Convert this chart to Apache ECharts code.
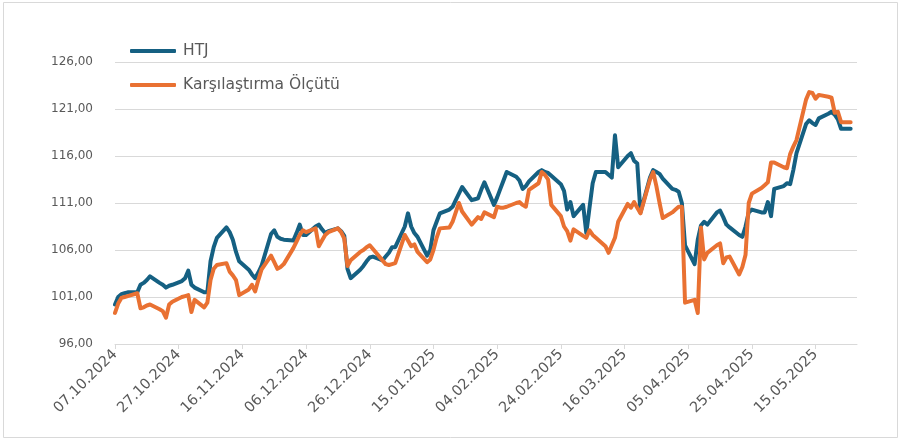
<!DOCTYPE html>
<html>
<head>
<meta charset="utf-8">
<script src="https://cdn.jsdelivr.net/npm/echarts@6/dist/echarts.min.js"></script>
<style>
html,body{margin:0;padding:0;background:#fff;}
#c{width:902px;height:441px;}
</style>
</head>
<body>
<div id="c"></div>
<script>
// Trading-day (weekday) values, starting Mon 07.10.2024, ending Mon 26.05.2025
const startDate = [2024, 10, 7];
const endDate = [2025, 5, 28];
const seriesNames = ['HTJ', 'Karşılaştırma Ölçütü'];
const htj = [
  100.2,101.0,101.3,101.4,101.5,
  101.5,102.3,102.5,102.8,103.2,
  102.5,102.3,102.0,102.2,102.3,
  102.7,103.0,103.8,102.3,102.0,
  101.5,101.5,104.8,106.3,107.3,
  108.4,107.9,107.1,105.8,104.8,
  103.9,103.4,103.0,103.6,104.3,
  107.7,108.1,107.4,107.2,107.1,
  107.0,107.8,108.7,107.6,107.6,
  108.5,108.7,108.2,107.8,108.0,
  108.3,108.0,107.5,104.0,103.0,
  103.9,104.3,104.8,105.2,105.3,
  104.9,105.3,105.7,106.3,106.3,
  108.5,109.9,108.5,107.8,107.4,
  105.4,106.0,108.1,109.0,109.9,
  110.3,110.6,111.3,112.0,112.7,
  111.3,111.4,111.5,112.4,113.2,
  110.8,111.6,112.5,113.4,114.3,
  113.8,113.4,112.5,112.8,113.3,
  114.3,114.5,114.3,114.2,113.9,
  113.0,112.3,110.3,111.1,109.6,
  110.8,107.8,110.5,113.1,114.3,
  114.3,114.0,113.7,118.2,114.8,
  116.0,116.3,115.5,115.2,110.0,
  113.7,114.5,114.3,114.1,113.6,
  112.5,112.4,112.2,111.0,106.5,
  104.5,107.1,108.6,109.0,108.7,
  110.0,110.2,109.5,108.7,108.4,
  107.6,107.4,108.5,110.0,110.3,
  110.0,110.0,111.1,109.6,112.5,
  112.8,113.1,113.0,114.5,116.3,
  119.4,119.8,119.5,119.3,120.0,
  120.5,120.7,120.4,119.9,118.9,
  118.9
];
const benchmark = [
  99.3,100.3,100.9,101.0,101.1,
  101.4,99.8,99.9,100.1,100.2,
  99.7,99.5,98.8,100.2,100.5,
  101.0,101.1,101.2,99.4,100.7,
  99.9,100.4,102.8,104.0,104.4,
  104.6,103.7,103.3,102.8,101.2,
  101.8,102.3,101.6,102.8,103.9,
  105.4,104.7,104.0,104.2,104.5,
  106.2,106.9,107.6,108.1,107.9,
  108.3,106.4,107.0,107.6,107.9,
  108.3,107.9,107.2,104.3,104.9,
  105.8,106.0,106.3,106.5,106.1,
  104.9,104.5,104.4,104.5,104.6,
  107.6,107.0,106.4,106.6,105.8,
  104.7,105.0,106.0,107.3,108.3,
  108.4,109.0,110.0,111.0,110.1,
  108.7,109.1,109.5,109.3,110.0,
  109.5,110.6,110.5,110.5,110.6,
  111.0,111.1,110.8,110.6,112.4,
  113.1,114.3,114.0,113.5,110.8,
  109.6,108.5,108.0,107.0,108.2,
  107.5,107.3,108.1,107.6,107.3,
  106.4,105.7,106.5,107.3,109.0,
  110.9,110.5,111.1,110.5,109.9,
  113.5,114.3,112.8,111.0,109.4,
  110.0,110.3,110.6,110.6,100.4,
  100.7,99.3,108.4,105.0,105.7,
  106.5,106.7,104.6,105.2,105.3,
  103.4,104.2,105.5,111.0,112.0,
  112.6,112.9,113.2,115.3,115.3,
  114.8,114.7,116.2,117.0,117.7,
  122.0,122.8,122.7,122.1,122.5,
  122.3,122.2,120.6,120.7,119.6,
  119.6
];
const yMin = 96, yMax = 126, yStep = 5;

// Build calendar-day categories; weekends get null (lines connect across them)
const categories = [], htjData = [], benchData = [];
const pad = n => (n < 10 ? '0' : '') + n;
let d = new Date(startDate[0], startDate[1] - 1, startDate[2]);
const end = new Date(endDate[0], endDate[1] - 1, endDate[2]);
let wi = 0;
while (d <= end) {
  categories.push(pad(d.getDate()) + '.' + pad(d.getMonth() + 1) + '.' + d.getFullYear());
  const wd = d.getDay();
  if (wd !== 0 && wd !== 6 && wi < htj.length) {
    htjData.push(htj[wi]); benchData.push(benchmark[wi]); wi++;
  } else {
    htjData.push(null); benchData.push(null);
  }
  d.setDate(d.getDate() + 1);
}

const chart = echarts.init(document.getElementById('c'), null, {renderer: 'canvas'});
const textColor = '#595959';
chart.setOption({
  animation: false,
  backgroundColor: '#ffffff',
  graphic: [{
    type: 'rect', z: -10, silent: true,
    shape: {x: 3.5, y: 2.5, width: 894, height: 435},
    style: {fill: 'none', stroke: '#d9d9d9', lineWidth: 1}
  }],
  grid: {left: 115, right: 45, top: 62, bottom: 97},
  legend: {
    orient: 'vertical', left: 125, top: 38,
    itemWidth: 46, itemHeight: 4, itemGap: 18,
    icon: 'roundRect',
    textStyle: {fontFamily: 'DejaVu Sans', fontSize: 15.5, color: textColor, padding: [0, 0, 0, 2]},
    data: seriesNames
  },
  xAxis: {
    type: 'category', data: categories, boundaryGap: false,
    axisLine: {lineStyle: {color: '#d9d9d9', width: 1}},
    axisTick: {show: true, interval: 19, length: 5, lineStyle: {color: '#d9d9d9'}},
    axisLabel: {interval: 19, rotate: 45, margin: 8, fontFamily: 'DejaVu Sans', fontSize: 14.5, color: textColor}
  },
  yAxis: {
    type: 'value', min: yMin, max: yMax, interval: yStep,
    axisLine: {show: false}, axisTick: {show: false},
    splitLine: {lineStyle: {color: '#d9d9d9', width: 1}},
    axisLabel: {margin: 22, fontFamily: 'DejaVu Sans', fontSize: 12, color: textColor,
      formatter: v => v.toFixed(2).replace('.', ',')}
  },
  series: [
    {name: seriesNames[0], type: 'line', data: htjData, connectNulls: true, showSymbol: false, symbol: 'none',
     itemStyle: {color: '#156082'}, lineStyle: {color: '#156082', width: 4, join: 'round', cap: 'round'}},
    {name: seriesNames[1], type: 'line', data: benchData, connectNulls: true, showSymbol: false, symbol: 'none',
     itemStyle: {color: '#E97132'}, lineStyle: {color: '#E97132', width: 4, join: 'round', cap: 'round'}}
  ]
});
</script>
</body>
</html>
